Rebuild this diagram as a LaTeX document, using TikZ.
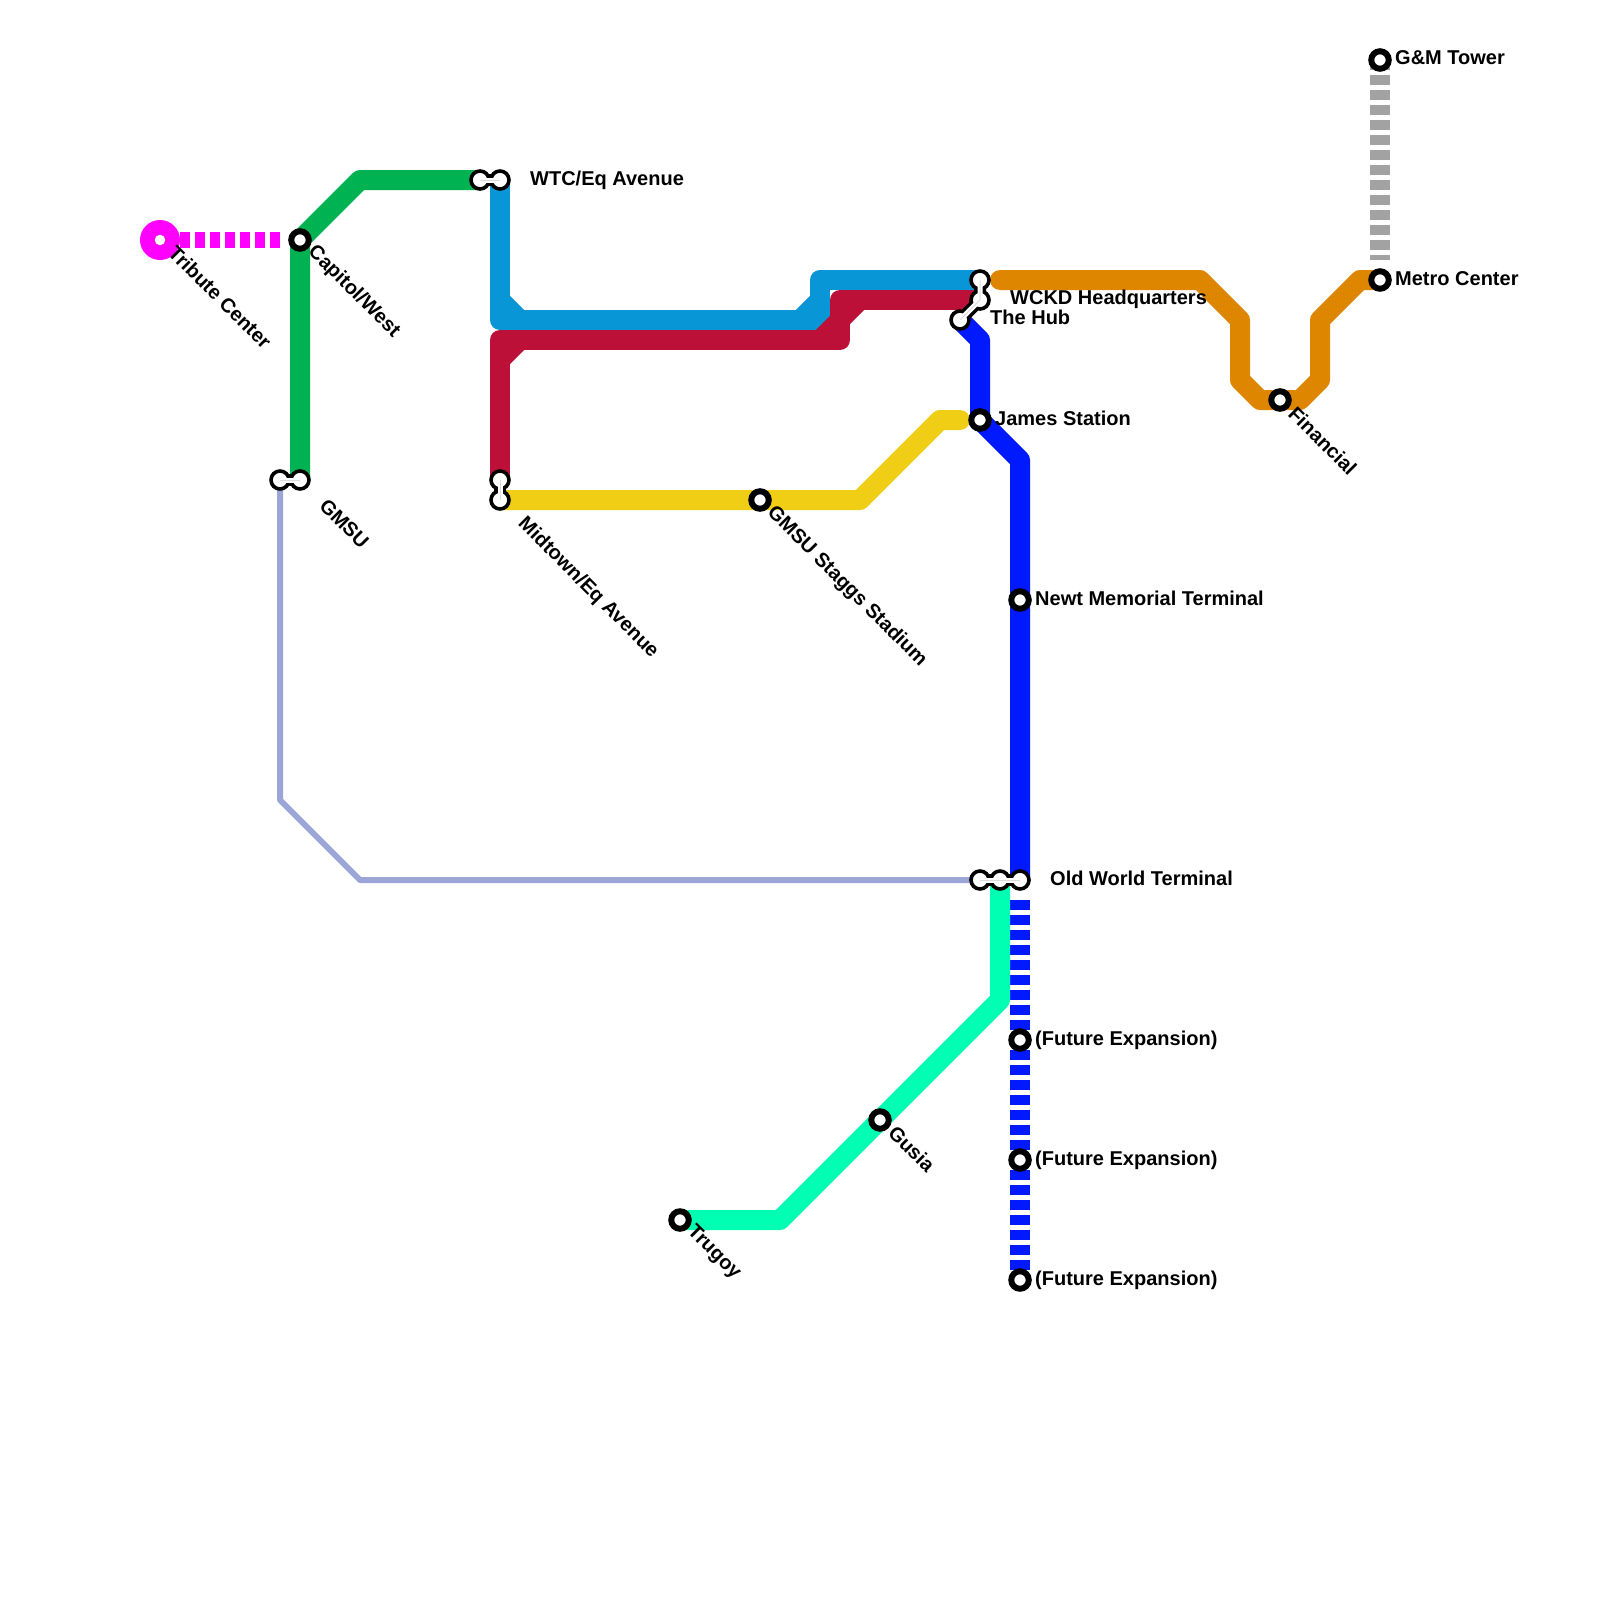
\documentclass[tikz,border=0pt]{standalone}
\usepackage{fontspec}
\setmainfont{Liberation Sans}
\definecolor{lgreen}{HTML}{00B251}
\definecolor{lcyan}{HTML}{0896D7}
\definecolor{lred}{HTML}{BD1038}
\definecolor{lyellow}{HTML}{F0CE15}
\definecolor{lorange}{HTML}{DF8600}
\definecolor{lblue}{HTML}{0019FF}
\definecolor{lmint}{HTML}{00FFB2}
\definecolor{lperi}{HTML}{9CA6D6}
\definecolor{lgrey}{HTML}{A2A2A2}
\definecolor{lmag}{HTML}{FF00FF}
\tikzset{
  metroline/.style={line width=20pt,line cap=round,line join=round},
  metrodash/.style={line width=20pt,line cap=butt,dash pattern=on 10pt off 5pt},
  stn/.style={circle,draw=black,fill=white,line width=6pt,minimum size=17.5pt,inner sep=0pt},
  xstn/.style={circle,draw=black,fill=white,line width=3.6pt,minimum size=18pt,inner sep=0pt},
  linkout/.style={draw=black,line width=12pt},
  linkin/.style={draw=white,line width=5pt},
  linkcore/.style={draw=black!14,line width=1pt},
  lbl/.style={anchor=base west,inner sep=0pt,font=\fontsize{20}{24}\selectfont\bfseries},
  dlbl/.style={anchor=west,inner sep=0pt,font=\fontsize{20}{24}\selectfont\bfseries,rotate=-45},
}
\begin{document}
\begin{tikzpicture}[x=1pt,y=-1pt]
\useasboundingbox (0,0) rectangle (1600,1600);
% station positions
\coordinate (pTribute) at (160,240);
\coordinate (pCapitol) at (300,240);
\coordinate (pGa) at (280,480);
\coordinate (pGb) at (300,480);
\coordinate (pWa) at (480,180);
\coordinate (pWb) at (500,180);
\coordinate (pMa) at (500,480);
\coordinate (pMb) at (500,500);
\coordinate (pStaggs) at (760,500);
\coordinate (pTrugoy) at (680,1220);
\coordinate (pGusia) at (880,1120);
\coordinate (pOa) at (980,880);
\coordinate (pOb) at (1000,880);
\coordinate (pOc) at (1020,880);
\coordinate (pF1) at (1020,1040);
\coordinate (pF2) at (1020,1160);
\coordinate (pF3) at (1020,1280);
\coordinate (pNewt) at (1020,600);
\coordinate (pJames) at (980,420);
\coordinate (pHub) at (960,320);
\coordinate (pWe) at (980,300);
\coordinate (pWf) at (980,280);
\coordinate (pFin) at (1280,400);
\coordinate (pMetro) at (1380,280);
\coordinate (pTower) at (1380,60);
% lines
\draw[lperi,line width=6pt,line join=round] (pGa) -- (280,800) -- (360,880) -- (pOa);
\draw[metroline,lgreen] (pWa) -- (360,180) -- (pCapitol) -- (pGb);
\draw[metroline,lcyan] (pWb) -- (500,320) -- (820,320) -- (820,280) -- (pWf);
\draw[metroline,lcyan] (500,300) -- (520,320);
\draw[metroline,lcyan] (820,300) -- (800,320);
\draw[metroline,lred] (pWe) -- (840,300) -- (840,340) -- (500,340) -- (pMa);
\draw[metroline,lred] (860,300) -- (820,340);
\draw[metroline,lred] (520,340) -- (500,360);
\draw[metroline,lyellow] (pMb) -- (860,500) -- (940,420) -- (960,420);
\draw[metroline,lorange] (1000,280) -- (1200,280) -- (1240,320) -- (1240,380) -- (1260,400) -- (1300,400) -- (1320,380) -- (1320,320) -- (1360,280) -- (pMetro);
\draw[metroline,lblue] (pHub) -- (980,340) -- (pJames) -- (1020,460) -- (pOc);
\draw[metrodash,lblue] (1020,900) -- (pF3);
\draw[metroline,lmint] (pOb) -- (1000,1000) -- (780,1220) -- (pTrugoy);
\draw[metrodash,lgrey] (pTower) -- (1380,260);
\draw[line width=16pt,lmag,dash pattern=on 10pt off 5pt] (180,240) -- (280,240);
% interchange links (outer)
\draw[linkout] (pGa) -- (pGb);
\draw[linkout] (pWa) -- (pWb);
\draw[linkout] (pMa) -- (pMb);
\draw[linkout] (pWf) -- (pWe) -- (pHub);
\draw[linkout] (pOa) -- (pOc);
% stations
\node[circle,fill=lmag,minimum size=40pt,inner sep=0pt] (nTribute) at (pTribute) {};
\node[circle,fill=white,minimum size=10.5pt,inner sep=0pt] (nTributeDot) at (pTribute) {};
\node[stn] (nCapitol) at (pCapitol) {};
\node[stn] (nStaggs) at (pStaggs) {};
\node[stn] (nTrugoy) at (pTrugoy) {};
\node[stn] (nGusia) at (pGusia) {};
\node[stn] (nF1) at (pF1) {};
\node[stn] (nF2) at (pF2) {};
\node[stn] (nF3) at (pF3) {};
\node[stn] (nNewt) at (pNewt) {};
\node[stn] (nJames) at (pJames) {};
\node[stn] (nFin) at (pFin) {};
\node[stn] (nMetro) at (pMetro) {};
\node[stn] (nTower) at (pTower) {};
\foreach \n/\p in {nGa/pGa,nGb/pGb,nWa/pWa,nWb/pWb,nMa/pMa,nMb/pMb,nHub/pHub,nWe/pWe,nWf/pWf,nOa/pOa,nOb/pOb,nOc/pOc}
  \node[xstn] (\n) at (\p) {};
% interchange links (inner)
\foreach \s in {linkin,linkcore}{
\draw[\s] (nGa.center) -- (nGb.center);
\draw[\s] (nWa.center) -- (nWb.center);
\draw[\s] (nMa.center) -- (nMb.center);
\draw[\s] (nWf.center) -- (nWe.center) -- (nHub.center);
\draw[\s] (nOa.center) -- (nOc.center);
}
% labels
\node[lbl] (tTower) at (1395,64.6) {G\&M Tower};
\node[lbl] (tMetro) at (1395,285) {Metro Center};
\node[lbl] (tWTC) at (530,185) {WTC/Eq Avenue};
\node[lbl] (tWCKD) at (1010,304.6) {WCKD Headquarters};
\node[lbl] (tHub) at (990,324.6) {The Hub};
\node[lbl] (tJames) at (995,425) {James Station};
\node[lbl] (tNewt) at (1035,605) {Newt Memorial Terminal};
\node[lbl] (tOld) at (1050,885) {Old World Terminal};
\node[lbl] (tF1) at (1035,1045) {(Future Expansion)};
\node[lbl] (tF2) at (1035,1165) {(Future Expansion)};
\node[lbl] (tF3) at (1035,1285) {(Future Expansion)};
\node[dlbl] (tTribute) at (172,249) {Tribute Center};
\node[dlbl] (tCapitol) at (311,249) {Capitol/West};
\node[dlbl] (tGMSU) at (323,502) {GMSU};
\node[dlbl] (tMid) at (521,521) {Midtown/Eq Avenue};
\node[dlbl] (tStaggs) at (770,510) {GMSU Staggs Stadium};
\node[dlbl] (tFin) at (1292,410) {Financial};
\node[dlbl] (tTrugoy) at (690,1229) {Trugoy};
\node[dlbl] (tGusia) at (892,1129) {Gusia};
\end{tikzpicture}
\end{document}
